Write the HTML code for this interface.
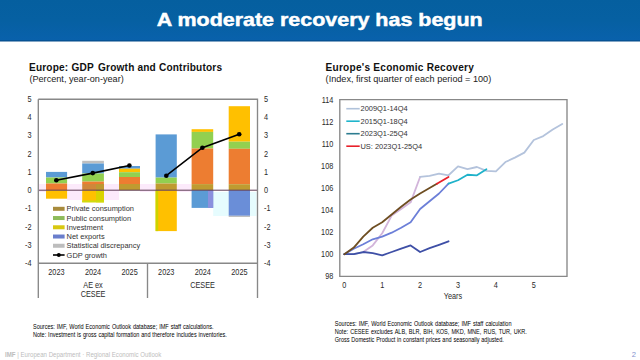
<!DOCTYPE html>
<html><head><meta charset="utf-8"><style>
html,body{margin:0;padding:0;width:640px;height:360px;overflow:hidden;background:#fff}
svg{position:absolute;left:0;top:0;display:block}
text{font-family:"Liberation Sans",sans-serif;fill:#222}
.ttl{font-size:17.8px;font-weight:bold;fill:#fff;stroke:#fff;stroke-width:0.45px}
.h{font-size:10.1px;font-weight:bold;fill:#111}
.sub{font-size:9.15px;fill:#222}
.ax{font-size:8.4px;fill:#2A2A2A}
.lg{font-size:7.45px;fill:#333}
.src{font-size:6.6px;fill:#000}
.ft{font-size:6.4px;fill:#BDBDBD}
.pg{font-size:7.6px;fill:#8592CF}
</style></head><body>
<svg width="640" height="360" viewBox="0 0 640 360">
<defs><linearGradient id="hg" x1="0" y1="0" x2="0" y2="1"><stop offset="0" stop-color="#055F9F"/><stop offset="0.5" stop-color="#0660A2"/><stop offset="1" stop-color="#0961AC"/></linearGradient></defs>
<rect x="0" y="0" width="640" height="41" fill="url(#hg)"/>
<rect x="0" y="40.3" width="640" height="1.2" fill="#064C8A"/>
<rect x="39" y="184" width="7" height="8" fill="#FCEAFB"/>
<rect x="67.1" y="184" width="15.100000000000009" height="16" fill="#FCEAFB"/>
<rect x="104" y="184" width="15" height="16" fill="#FCEAFB"/>
<rect x="140" y="184" width="15.599999999999994" height="8" fill="#FCEAFB"/>
<rect x="176.8" y="184" width="14.799999999999983" height="8" fill="#FCEAFB"/>
<rect x="213.2" y="192" width="15.5" height="24" fill="#E6FCFE"/>
<rect x="250" y="192" width="6.5" height="24" fill="#E6FCFE"/>
<rect x="46.00" y="171.90" width="21.10" height="5.60" fill="#5B9BD5"/>
<rect x="46.00" y="177.50" width="21.10" height="6.00" fill="#92D050"/>
<rect x="46.00" y="183.50" width="21.10" height="6.70" fill="#ED7D31"/>
<rect x="46.00" y="190.20" width="21.10" height="8.50" fill="#FFC000"/>
<rect x="82.20" y="160.80" width="21.70" height="2.70" fill="#BFBFBF"/>
<rect x="82.20" y="163.50" width="21.70" height="10.00" fill="#5B9BD5"/>
<rect x="82.20" y="173.50" width="21.70" height="8.10" fill="#92D050"/>
<rect x="82.20" y="181.60" width="21.70" height="2.40" fill="#ED7D31"/>
<rect x="82.20" y="184.00" width="21.70" height="6.20" fill="#D0873A"/>
<rect x="82.20" y="190.20" width="21.70" height="12.10" fill="#FFC000"/>
<rect x="119.00" y="166.00" width="21.00" height="2.70" fill="#5B9BD5"/>
<rect x="119.00" y="168.70" width="21.00" height="3.50" fill="#FFC000"/>
<rect x="119.00" y="172.20" width="21.00" height="4.80" fill="#92D050"/>
<rect x="119.00" y="177.00" width="21.00" height="7.00" fill="#ED7D31"/>
<rect x="119.00" y="184.00" width="21.00" height="6.20" fill="#BF9B30"/>
<rect x="155.60" y="134.40" width="21.20" height="43.20" fill="#5B9BD5"/>
<rect x="155.60" y="177.60" width="21.20" height="5.90" fill="#92D050"/>
<rect x="155.60" y="183.50" width="21.20" height="6.70" fill="#BF9B30"/>
<rect x="155.60" y="190.20" width="21.20" height="40.90" fill="#FFC000"/>
<rect x="191.60" y="129.20" width="21.60" height="2.70" fill="#FFC000"/>
<rect x="191.60" y="131.90" width="21.60" height="16.60" fill="#92D050"/>
<rect x="191.60" y="148.50" width="21.60" height="35.60" fill="#ED7D31"/>
<rect x="191.60" y="184.10" width="21.60" height="6.10" fill="#BF9B30"/>
<rect x="191.60" y="190.20" width="21.60" height="17.70" fill="#5B9BD5"/>
<rect x="228.70" y="106.20" width="21.30" height="35.50" fill="#FFC000"/>
<rect x="228.70" y="141.70" width="21.30" height="7.10" fill="#92D050"/>
<rect x="228.70" y="148.80" width="21.30" height="35.40" fill="#ED7D31"/>
<rect x="228.70" y="184.20" width="21.30" height="6.00" fill="#BF9B30"/>
<rect x="228.70" y="190.20" width="21.30" height="25.60" fill="#6A8ED8"/>
<rect x="228.70" y="215.80" width="21.30" height="1.20" fill="#BFBFBF"/>
<rect x="96" y="190.2" width="7.9" height="12.1" fill="#D9D300"/>
<rect x="96" y="184" width="7.9" height="6.2" fill="#BC9832"/>
<rect x="82.2" y="200.5" width="21.7" height="1.8" fill="#CCDC10"/>
<rect x="155.6" y="190.2" width="2.6" height="40.9" fill="#CCD400"/>
<rect x="208" y="190.2" width="5.2" height="17.7" fill="#8A90DE"/>
<line x1="38.3" y1="190.2" x2="257.5" y2="190.2" stroke="#5E3A55" stroke-width="1.0"/>
<polyline points="56.3,180.3 92.8,173.1 129.4,165.5" fill="none" stroke="#000" stroke-width="1.6"/>
<polyline points="166.3,175.7 202.4,147.7 239.2,134.2" fill="none" stroke="#000" stroke-width="1.6"/>
<circle cx="56.3" cy="180.3" r="2.3" fill="#000"/>
<circle cx="92.8" cy="173.1" r="2.3" fill="#000"/>
<circle cx="129.4" cy="165.5" r="2.3" fill="#000"/>
<circle cx="166.3" cy="175.7" r="2.3" fill="#000"/>
<circle cx="202.4" cy="147.7" r="2.3" fill="#000"/>
<circle cx="239.2" cy="134.2" r="2.3" fill="#000"/>
<path d="M38.3,99.2 H257.5 V298 M38.3,99.2 V298 M38.3,263.2 H257.5 M147.5,263.2 V298" fill="none" stroke="#888888" stroke-width="1.35"/>
<text transform="translate(31.60,266.00) scale(0.87,1)" text-anchor="end" class="ax">-4</text>
<text transform="translate(264.10,266.00) scale(0.87,1)" text-anchor="start" class="ax">-4</text>
<text transform="translate(31.60,247.78) scale(0.87,1)" text-anchor="end" class="ax">-3</text>
<text transform="translate(264.10,247.78) scale(0.87,1)" text-anchor="start" class="ax">-3</text>
<text transform="translate(31.60,229.56) scale(0.87,1)" text-anchor="end" class="ax">-2</text>
<text transform="translate(264.10,229.56) scale(0.87,1)" text-anchor="start" class="ax">-2</text>
<text transform="translate(31.60,211.33) scale(0.87,1)" text-anchor="end" class="ax">-1</text>
<text transform="translate(264.10,211.33) scale(0.87,1)" text-anchor="start" class="ax">-1</text>
<text transform="translate(31.60,193.11) scale(0.87,1)" text-anchor="end" class="ax">0</text>
<text transform="translate(264.10,193.11) scale(0.87,1)" text-anchor="start" class="ax">0</text>
<text transform="translate(31.60,174.89) scale(0.87,1)" text-anchor="end" class="ax">1</text>
<text transform="translate(264.10,174.89) scale(0.87,1)" text-anchor="start" class="ax">1</text>
<text transform="translate(31.60,156.67) scale(0.87,1)" text-anchor="end" class="ax">2</text>
<text transform="translate(264.10,156.67) scale(0.87,1)" text-anchor="start" class="ax">2</text>
<text transform="translate(31.60,138.44) scale(0.87,1)" text-anchor="end" class="ax">3</text>
<text transform="translate(264.10,138.44) scale(0.87,1)" text-anchor="start" class="ax">3</text>
<text transform="translate(31.60,120.22) scale(0.87,1)" text-anchor="end" class="ax">4</text>
<text transform="translate(264.10,120.22) scale(0.87,1)" text-anchor="start" class="ax">4</text>
<text transform="translate(31.60,102.00) scale(0.87,1)" text-anchor="end" class="ax">5</text>
<text transform="translate(264.10,102.00) scale(0.87,1)" text-anchor="start" class="ax">5</text>
<text transform="translate(56.40,274.80) scale(0.87,1)" text-anchor="middle" class="ax">2023</text>
<text transform="translate(93.00,274.80) scale(0.87,1)" text-anchor="middle" class="ax">2024</text>
<text transform="translate(129.60,274.80) scale(0.87,1)" text-anchor="middle" class="ax">2025</text>
<text transform="translate(166.20,274.80) scale(0.87,1)" text-anchor="middle" class="ax">2023</text>
<text transform="translate(202.80,274.80) scale(0.87,1)" text-anchor="middle" class="ax">2024</text>
<text transform="translate(239.40,274.80) scale(0.87,1)" text-anchor="middle" class="ax">2025</text>
<text transform="translate(93.00,288.10) scale(0.87,1)" text-anchor="middle" class="ax">AE ex</text>
<text transform="translate(93.00,296.60) scale(0.87,1)" text-anchor="middle" class="ax">CESEE</text>
<text transform="translate(202.60,288.10) scale(0.87,1)" text-anchor="middle" class="ax">CESEE</text>
<rect x="53" y="206.80" width="11.6" height="4" fill="#A88B3C"/>
<text x="66.6" y="211.40" class="lg">Private consumption</text>
<rect x="53" y="216.04" width="11.6" height="4" fill="#8DBB5A"/>
<text x="66.6" y="220.64" class="lg">Public consumption</text>
<rect x="53" y="225.28" width="11.6" height="4" fill="#D8C810"/>
<text x="66.6" y="229.88" class="lg">Investment</text>
<rect x="53" y="234.52" width="11.6" height="4" fill="#6A7ECC"/>
<text x="66.6" y="239.12" class="lg">Net exports</text>
<rect x="53" y="243.76" width="11.6" height="4" fill="#BDBDBD"/>
<text x="66.6" y="248.36" class="lg">Statistical discrepancy</text>
<line x1="53" y1="255.00" x2="64.6" y2="255.00" stroke="#000" stroke-width="1.6"/><circle cx="58.8" cy="255.00" r="2.0" fill="#000"/>
<text x="66.6" y="257.60" class="lg">GDP growth</text>
<polyline points="344.30,254.22 353.78,254.22 363.25,252.01" fill="none" stroke="#B8C6DE" stroke-width="1.8" stroke-linejoin="round" stroke-linecap="round"/>
<polyline points="363.25,252.01 372.73,245.39 382.20,233.24 391.68,215.58 401.15,208.96 410.62,202.33 420.10,176.94" fill="none" stroke="#D2B4DA" stroke-width="1.8" stroke-linejoin="round" stroke-linecap="round"/>
<polyline points="420.10,176.94 429.57,175.84 439.05,173.63 448.52,175.28 458.00,166.45 467.48,169.21 476.95,167.00 486.43,170.87 495.90,171.42 505.38,162.04 514.85,157.62 524.33,152.65 533.80,139.96 543.27,136.09 552.75,129.47 562.23,123.95" fill="none" stroke="#B4C3DC" stroke-width="1.8" stroke-linejoin="round" stroke-linecap="round"/>
<polyline points="344.30,254.22 353.78,248.70 363.25,244.28 372.73,239.32 382.20,236.56 391.68,232.69 401.15,227.72 410.62,222.20 420.10,208.96 429.57,201.23 439.05,193.50 448.52,183.56" fill="none" stroke="#6C7FD8" stroke-width="1.8" stroke-linejoin="round" stroke-linecap="round"/>
<polyline points="448.52,183.56 458.00,180.25 467.48,174.73 476.95,175.28 486.43,169.21" fill="none" stroke="#1FB2CA" stroke-width="1.8" stroke-linejoin="round" stroke-linecap="round"/>
<polyline points="344.30,254.22 353.78,254.22 363.25,252.01 372.73,253.12 382.20,255.32 391.68,252.01 401.15,248.70 410.62,245.39 420.10,252.01 429.57,248.15 439.05,244.84 448.52,241.30" fill="none" stroke="#3E4FA6" stroke-width="1.8" stroke-linejoin="round" stroke-linecap="round"/>
<polyline points="344.30,254.22 353.78,247.60 363.25,236.56 372.73,227.72 382.20,222.20 391.68,214.48 401.15,206.75 410.62,199.57 420.10,193.50 429.57,187.98 436.90,183.71" fill="none" stroke="#6E4E22" stroke-width="1.8" stroke-linejoin="round" stroke-linecap="round"/>
<polyline points="436.90,183.71 448.52,176.94" fill="none" stroke="#E8202A" stroke-width="1.8" stroke-linecap="round"/>
<path d="M339.8,99.6 H567.0 V276.3 H339.8 Z" fill="none" stroke="#888888" stroke-width="1.35"/>
<text transform="translate(333.30,279.40) scale(0.87,1)" text-anchor="end" class="ax">98</text>
<text transform="translate(333.30,257.32) scale(0.87,1)" text-anchor="end" class="ax">100</text>
<text transform="translate(333.30,235.24) scale(0.87,1)" text-anchor="end" class="ax">102</text>
<text transform="translate(333.30,213.16) scale(0.87,1)" text-anchor="end" class="ax">104</text>
<text transform="translate(333.30,191.08) scale(0.87,1)" text-anchor="end" class="ax">106</text>
<text transform="translate(333.30,169.00) scale(0.87,1)" text-anchor="end" class="ax">108</text>
<text transform="translate(333.30,146.92) scale(0.87,1)" text-anchor="end" class="ax">110</text>
<text transform="translate(333.30,124.84) scale(0.87,1)" text-anchor="end" class="ax">112</text>
<text transform="translate(333.30,102.76) scale(0.87,1)" text-anchor="end" class="ax">114</text>
<text transform="translate(344.30,288.10) scale(0.87,1)" text-anchor="middle" class="ax">0</text>
<text transform="translate(382.20,288.10) scale(0.87,1)" text-anchor="middle" class="ax">1</text>
<text transform="translate(420.10,288.10) scale(0.87,1)" text-anchor="middle" class="ax">2</text>
<text transform="translate(458.00,288.10) scale(0.87,1)" text-anchor="middle" class="ax">3</text>
<text transform="translate(495.90,288.10) scale(0.87,1)" text-anchor="middle" class="ax">4</text>
<text transform="translate(533.80,288.10) scale(0.87,1)" text-anchor="middle" class="ax">5</text>
<text transform="translate(453.00,298.80) scale(0.87,1)" text-anchor="middle" class="ax">Years</text>
<line x1="346.3" y1="108.70" x2="359.7" y2="108.70" stroke="#B0C2DA" stroke-width="1.6"/>
<text x="360.5" y="111.30" class="lg">2009Q1-14Q4</text>
<line x1="346.3" y1="121.20" x2="359.7" y2="121.20" stroke="#1FB5CC" stroke-width="1.6"/>
<text x="360.5" y="123.80" class="lg">2015Q1-18Q4</text>
<line x1="346.3" y1="133.70" x2="359.7" y2="133.70" stroke="#2C7C90" stroke-width="1.6"/>
<text x="360.5" y="136.30" class="lg">2023Q1-25Q4</text>
<line x1="346.3" y1="146.20" x2="359.7" y2="146.20" stroke="#E8202A" stroke-width="1.6"/>
<text x="360.5" y="148.80" class="lg">US: 2023Q1-25Q4</text>
<text x="0" y="0" transform="translate(156.8,25.7) scale(1.206,1)" class="ttl">A moderate recovery has begun</text>
<text x="29.0" y="71.2" class="h" style="letter-spacing:0.18px">Europe: GDP<tspan dx="1.5"> Growth and Contributors</tspan></text>
<text x="29.4" y="82.2" class="sub">(Percent, year-on-year)</text>
<text x="325.5" y="71.1" class="h" style="letter-spacing:0.25px">Europe's Economic Recovery</text>
<text x="325.6" y="82.2" class="sub">(Index, first quarter of each period = 100)</text>
<text transform="translate(33.0,328.8) scale(0.84,1)" style="word-spacing:0.554px" class="src">Sources: IMF, World Economic Outlook database; IMF staff calculations.</text>
<text transform="translate(33.0,336.5) scale(0.84,1)" style="word-spacing:0.442px" class="src">Note: Investment is gross capital formation and therefore includes inventories.</text>
<text transform="translate(334.8,326.0) scale(0.84,1)" style="word-spacing:0.630px" class="src">Sources: IMF, World Economic Outlook database; IMF staff calculation</text>
<text transform="translate(334.8,333.8) scale(0.84,1)" style="word-spacing:0.716px" class="src">Note: CESEE excludes ALB, BLR, BIH, KOS, MKD, MNE, RUS, TUR, UKR.</text>
<text transform="translate(334.8,342.2) scale(0.84,1)" style="word-spacing:0.308px" class="src">Gross Domestic Product in constant prices and seasonally adjusted.</text>
<text x="5" y="356.5" textLength="156.3" lengthAdjust="spacingAndGlyphs" class="ft"><tspan font-weight="bold">IMF</tspan> | European Department · Regional Economic Outlook</text>
<text x="633.8" y="356.7" text-anchor="middle" class="pg">2</text>
</svg>
</body></html>
